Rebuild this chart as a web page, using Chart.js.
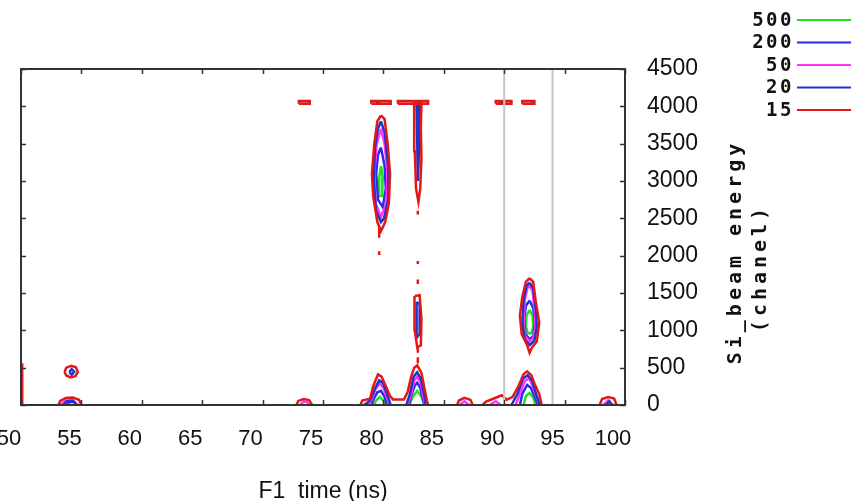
<!DOCTYPE html>
<html>
<head>
<meta charset="utf-8">
<script src="https://cdn.jsdelivr.net/npm/chart.js@4.4.1/dist/chart.umd.min.js"></script>
<style>
  html, body { margin: 0; padding: 0; background: #fff; }
  #wrap { width: 851px; height: 501px; }
</style>
</head>
<body>
<div id="wrap"><canvas id="contour" width="851" height="501"></canvas></div>
<script>
// contour levels, top of legend first
const levelLabels = ['500', '200', '50', '20', '15'];
const xTickValues = [50, 55, 60, 65, 70, 75, 80, 85, 90, 95, 100];
const yTickValues = [0, 500, 1000, 1500, 2000, 2500, 3000, 3500, 4000, 4500];
const guideTimes = [90, 94];

// contour lines, [time (ns), channel]
const contour15 = [
  [[50.1, 0], [50.1, 560]],
  [[53.6, 440], [53.75, 500], [54.15, 525], [54.55, 505], [54.7, 440], [54.5, 385], [54.1, 370], [53.75, 395], [53.6, 440]],
  [[53.1, 0], [53.25, 55], [53.7, 95], [54.3, 100], [54.8, 70], [55.0, 0]],
  [[72.8, 0], [72.95, 55], [73.4, 80], [73.85, 65], [74.1, 0]],
  [[78.1, 0], [78.25, 60], [78.9, 85], [79.15, 250], [79.55, 410], [79.85, 380], [80.2, 250], [80.55, 120], [80.8, 75], [81.7, 75], [82.0, 170], [82.3, 380], [82.55, 500], [82.8, 530], [83.15, 430], [83.45, 180], [83.6, 60], [83.7, 0]],
  [[82.85, 560], [82.85, 640]],
  [[82.85, 700], [82.85, 760]],
  [[82.6, 1460], [83.0, 1470], [83.15, 1150], [83.1, 800], [82.8, 770], [82.6, 1000], [82.55, 1250], [82.6, 1460]],
  [[82.85, 1620], [82.85, 1680]],
  [[82.85, 1890], [82.85, 1930]],
  [[82.85, 2550], [82.85, 2600]],
  [[82.55, 4060], [83.15, 4060], [83.1, 3700], [83.15, 3300], [83.05, 2900], [82.9, 2720], [82.7, 2900], [82.6, 3400], [82.55, 4060]],
  [[73.0, 4035], [73.9, 4035], [73.9, 4070], [73.0, 4070], [73.0, 4035]],
  [[79.0, 4035], [80.6, 4035], [80.6, 4070], [79.0, 4070], [79.0, 4035]],
  [[81.2, 4035], [83.7, 4035], [83.7, 4070], [81.2, 4070], [81.2, 4035]],
  [[89.3, 4035], [90.6, 4035], [90.6, 4070], [89.3, 4070], [89.3, 4035]],
  [[91.5, 4035], [92.5, 4035], [92.5, 4070], [91.5, 4070], [91.5, 4035]],
  [[79.8, 3880], [80.1, 3830], [80.35, 3500], [80.55, 3100], [80.45, 2700], [80.15, 2450], [79.8, 2330], [79.5, 2450], [79.15, 2800], [79.05, 3100], [79.25, 3500], [79.5, 3800], [79.8, 3880]],
  [[79.65, 2240], [79.65, 2380]],
  [[79.65, 2010], [79.65, 2060]],
  [[86.1, 0], [86.25, 60], [86.7, 95], [87.2, 70], [87.4, 0]],
  [[88.2, 0], [88.5, 45], [89.2, 90], [89.8, 130], [90.2, 70], [90.7, 110], [91.2, 260], [91.6, 410], [91.9, 450], [92.25, 400], [92.55, 270], [92.9, 150], [93.1, 0]],
  [[92.1, 1700], [92.4, 1650], [92.6, 1400], [92.9, 1100], [92.7, 850], [92.3, 770], [92.1, 700], [91.9, 800], [91.45, 950], [91.3, 1200], [91.5, 1450], [91.8, 1650], [92.1, 1700]],
  [[97.9, 0], [98.1, 80], [98.6, 105], [99.1, 85], [99.3, 0]]
];
const contour20 = [
  [[54.0, 440], [54.2, 480], [54.4, 445], [54.2, 405], [54.0, 440]],
  [[53.5, 0], [53.8, 50], [54.3, 60], [54.6, 0]],
  [[79.8, 3800], [80.1, 3650], [80.4, 3200], [80.4, 2750], [80.05, 2500], [79.8, 2450], [79.4, 2600], [79.2, 3000], [79.3, 3450], [79.55, 3700], [79.8, 3800]],
  [[82.75, 4030], [83.0, 4030], [82.95, 3400], [82.85, 3000], [82.75, 4030]],
  [[82.75, 1380], [83.0, 1350], [83.0, 950], [82.75, 900], [82.75, 1380]],
  [[78.4, 0], [78.9, 60], [79.3, 220], [79.65, 330], [79.95, 300], [80.3, 150], [80.6, 0]],
  [[81.9, 0], [82.2, 150], [82.5, 380], [82.8, 440], [83.1, 350], [83.4, 120], [83.5, 0]],
  [[92.1, 1640], [92.4, 1560], [92.6, 1300], [92.7, 1050], [92.5, 860], [92.1, 800], [91.7, 880], [91.5, 1100], [91.6, 1400], [91.85, 1600], [92.1, 1640]],
  [[90.6, 0], [91.1, 150], [91.55, 350], [91.95, 400], [92.3, 330], [92.7, 120], [92.95, 0]],
  [[79.4, 4050], [79.7, 4050]],
  [[89.6, 4050], [90.0, 4050]],
  [[92.2, 4060], [92.4, 4060]],
  [[98.4, 0], [98.7, 50], [98.9, 0]]
];
const contour50 = [
  [[79.8, 3700], [80.1, 3500], [80.35, 3100], [80.25, 2700], [79.8, 2520], [79.35, 2700], [79.25, 3100], [79.45, 3500], [79.8, 3700]],
  [[78.6, 0], [79.0, 60], [79.4, 230], [79.7, 290], [80.0, 230], [80.3, 100], [80.5, 0]],
  [[82.0, 0], [82.3, 150], [82.55, 330], [82.8, 380], [83.1, 300], [83.3, 120], [83.45, 0]],
  [[92.1, 1600], [92.35, 1520], [92.5, 1300], [92.6, 1050], [92.4, 900], [92.1, 850], [91.75, 920], [91.6, 1100], [91.7, 1400], [91.9, 1560], [92.1, 1600]],
  [[90.95, 0], [91.3, 150], [91.7, 320], [92.05, 360], [92.35, 260], [92.7, 100], [92.9, 0]],
  [[53.3, 0], [53.7, 60], [54.3, 60], [54.7, 0]],
  [[73.1, 0], [73.4, 45], [73.7, 35], [73.9, 0]],
  [[86.3, 0], [86.7, 50], [87.1, 0]],
  [[98.2, 0], [98.6, 60], [99.0, 0]],
  [[89.5, 4050], [89.9, 4050]],
  [[88.8, 0], [89.3, 50], [89.7, 0]]
];
const contour200 = [
  [[79.8, 3450], [80.1, 3200], [80.2, 2900], [79.95, 2650], [79.55, 2750], [79.4, 3100], [79.55, 3350], [79.8, 3450]],
  [[79.0, 0], [79.2, 80], [79.5, 170], [79.8, 190], [80.1, 110], [80.3, 0]],
  [[82.1, 0], [82.3, 120], [82.6, 260], [82.8, 300], [83.05, 230], [83.3, 60], [83.4, 0]],
  [[92.1, 1400], [92.4, 1300], [92.55, 1100], [92.4, 920], [92.1, 880], [91.75, 950], [91.65, 1150], [91.8, 1330], [92.1, 1400]],
  [[91.3, 0], [91.5, 150], [91.9, 270], [92.2, 230], [92.6, 80], [92.8, 0]],
  [[53.8, 0], [54.0, 40], [54.4, 40], [54.6, 0]]
];
const contour500 = [
  [[79.8, 3200], [79.95, 3050], [79.9, 2800], [79.7, 2800], [79.65, 3050], [79.8, 3200]],
  [[79.2, 0], [79.4, 60], [79.7, 110], [80.0, 60], [80.2, 0]],
  [[82.15, 0], [82.4, 100], [82.8, 190], [83.2, 100], [83.4, 0]],
  [[92.1, 1270], [92.35, 1200], [92.4, 1050], [92.25, 960], [91.95, 960], [91.8, 1050], [91.85, 1200], [92.1, 1270]],
  [[91.6, 0], [91.8, 120], [92.1, 160], [92.4, 100], [92.6, 0]]
];

const contoursByLevel = { '500': contour500, '200': contour200, '50': contour50, '20': contour20, '15': contour15 };
const levelColors = { '500': '#22e022', '200': '#2a2aee', '50': '#ff33ff', '20': '#2233c8', '15': '#e01818' };

// several loops in one dataset, split by gaps
function toPoints(lines) {
  const pts = [];
  lines.forEach(line => {
    line.forEach(([x, y]) => pts.push({ x, y }));
    pts.push({ x: line[line.length - 1][0], y: null });
  });
  return pts;
}

const datasets = [];
guideTimes.forEach(t => {
  datasets.push({
    label: 'guide', data: [{ x: t, y: yTickValues[0] }, { x: t, y: yTickValues[yTickValues.length - 1] }],
    showLine: true, borderColor: '#c6c6c6', borderWidth: 2, pointRadius: 0
  });
});
// outermost level first so inner ones sit on top
levelLabels.slice().reverse().forEach(lv => {
  datasets.push({
    label: lv, data: toPoints(contoursByLevel[lv]),
    showLine: true, spanGaps: false, borderColor: levelColors[lv], borderWidth: 2.5,
    pointRadius: 0, tension: 0
  });
});

const tickFont = "'Liberation Sans', Arial, sans-serif";
const monoFont = "'DejaVu Sans Mono', monospace";

const framePlugin = {
  id: 'frame',
  afterDatasetsDraw(chart) {
    const { ctx, chartArea: a, scales } = chart;
    ctx.save();
    ctx.strokeStyle = '#333';
    ctx.lineWidth = 1.5;
    xTickValues.forEach(v => {
      const px = Math.round(scales.x.getPixelForValue(v)) + 0.5;
      ctx.beginPath();
      ctx.moveTo(px, a.bottom); ctx.lineTo(px, a.bottom - 5);
      ctx.moveTo(px, a.top); ctx.lineTo(px, a.top + 5);
      ctx.stroke();
    });
    yTickValues.forEach(v => {
      const py = Math.round(scales.y.getPixelForValue(v)) + 0.5;
      ctx.beginPath();
      ctx.moveTo(a.left, py); ctx.lineTo(a.left + 5, py);
      ctx.moveTo(a.right, py); ctx.lineTo(a.right - 5, py);
      ctx.stroke();
    });
    ctx.lineWidth = 2;
    ctx.strokeRect(a.left, a.top, a.right - a.left, a.bottom - a.top);
    ctx.restore();
  }
};

const keyPlugin = {
  id: 'contourKey',
  afterDraw(chart) {
    const { ctx } = chart;
    ctx.save();
    ctx.font = 'bold 19px ' + monoFont;
    ctx.letterSpacing = '2.5px';
    ctx.textAlign = 'right';
    ctx.textBaseline = 'middle';
    levelLabels.forEach((lv, i) => {
      const y = 20 + i * 22.5;
      ctx.fillStyle = '#111';
      ctx.fillText(lv, 794, y + 1);
      ctx.strokeStyle = levelColors[lv];
      ctx.lineWidth = 2;
      ctx.beginPath();
      ctx.moveTo(797, y); ctx.lineTo(851, y);
      ctx.stroke();
    });
    // y axis title, read bottom to top
    ctx.translate(736, 252);
    ctx.rotate(-Math.PI / 2);
    ctx.textAlign = 'center';
    ctx.letterSpacing = '4px';
    ctx.font = 'bold 20px ' + monoFont;
    ctx.fillText('Si_beam energy', 0, 0);
    ctx.fillText('(chanel)', -16, 25);
    ctx.restore();
  }
};

new Chart(document.getElementById('contour'), {
  type: 'scatter',
  data: { datasets },
  options: {
    responsive: false,
    animation: false,
    layout: { padding: { left: 21, top: 69, right: 0, bottom: 0 } },
    plugins: { legend: { display: false }, tooltip: { enabled: false } },
    scales: {
      x: {
        type: 'linear', min: 50, max: 100,
        afterBuildTicks: s => { s.ticks = xTickValues.map(v => ({ value: v })); },
        afterFit: s => { s.height = 96; s.paddingLeft = 0; s.paddingRight = 0; },
        ticks: { color: '#111', font: { family: tickFont, size: 22 }, padding: 21, labelOffset: -12, maxRotation: 0, autoSkip: false, callback: v => String(v) },
        grid: { display: false, drawTicks: false },
        border: { display: false },
        title: { display: true, text: 'F1  time (ns)', color: '#111', font: { family: tickFont, size: 23 }, padding: { top: 0, bottom: -4 } }
      },
      y: {
        type: 'linear', position: 'right', min: 0, max: 4500,
        afterBuildTicks: s => { s.ticks = yTickValues.map(v => ({ value: v })); },
        afterFit: s => { s.width = 226; s.paddingTop = 0; s.paddingBottom = 0; },
        ticks: { color: '#111', font: { family: tickFont, size: 23 }, padding: 22, autoSkip: false, callback: v => String(v) },
        grid: { display: false, drawTicks: false },
        border: { display: false }
      }
    }
  },
  plugins: [framePlugin, keyPlugin]
});
</script>
</body>
</html>
